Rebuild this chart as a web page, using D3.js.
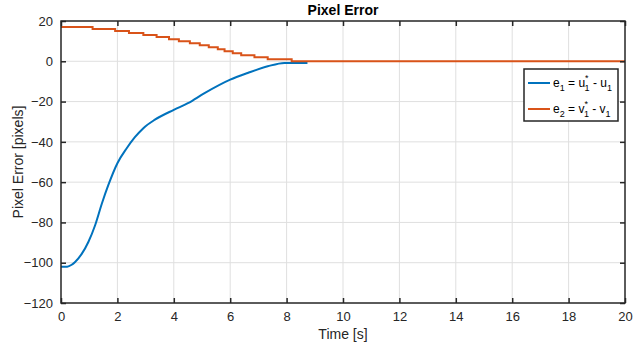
<!DOCTYPE html>
<html>
<head>
<meta charset="utf-8">
<script src="https://cdn.jsdelivr.net/npm/d3@7"></script>
<style>
  html, body { margin: 0; padding: 0; background: #fff; }
  svg { display: block; font-family: "Liberation Sans", Arial, sans-serif; }
</style>
</head>
<body>
<svg id="chart" width="633" height="351"></svg>
<script>
// Time axis ticks and value axis ticks
const xTicks = [0, 2, 4, 6, 8, 10, 12, 14, 16, 18, 20];
const yTicks = [-120, -100, -80, -60, -40, -20, 0, 20];

// e1 = u1* - u1 : horizontal pixel error (time [s], error [px])
const e1Time = [0, 0.22, 0.38, 0.5, 0.74, 0.97, 1.21, 1.45, 1.68, 2.0, 2.33, 2.62, 2.92, 3.33, 4.0, 4.5, 5.09, 6.0, 6.62, 7.33, 7.92, 8.74];
const e1Value = [-102, -102, -101, -99.6, -95.5, -89.7, -81.4, -70.6, -61.4, -50.6, -43.2, -37.7, -33.2, -29.0, -24.1, -20.8, -15.8, -9.1, -5.8, -2.5, -0.8, -0.8];

// e2 = v1* - v1 : vertical pixel error, held constant between updates
const e2Time = [0, 1.12, 1.92, 2.41, 2.92, 3.39, 3.83, 4.18, 4.57, 4.92, 5.24, 5.56, 5.80, 6.09, 6.39, 6.86, 7.33, 8.18, 20];
const e2Value = [17, 16, 15, 14, 13, 12, 11, 10, 9, 8, 7, 6, 5, 4, 3, 2, 1, 0, 0];

const margin = { left: 61, right: 625, top: 21, bottom: 303 };
const svg = d3.select("#chart");

const x = d3.scaleLinear().domain([0, 20]).range([margin.left, margin.right]);
const y = d3.scaleLinear().domain([-120, 20]).range([margin.bottom, margin.top]);

const axisColor = "#262626";
const gridColor = "#dfdfdf";

// grid
const grid = svg.append("g");
grid.selectAll("line.gx").data(xTicks.slice(1, -1)).join("line")
  .attr("x1", d => x(d)).attr("x2", d => x(d))
  .attr("y1", margin.top).attr("y2", margin.bottom)
  .attr("stroke", gridColor).attr("stroke-width", 1);
grid.selectAll("line.gy").data(yTicks.slice(1, -1)).join("line")
  .attr("y1", d => y(d)).attr("y2", d => y(d))
  .attr("x1", margin.left).attr("x2", margin.right)
  .attr("stroke", gridColor).attr("stroke-width", 1);

// series
svg.append("path")
  .datum(e1Time.map((t, i) => [t, e1Value[i]]))
  .attr("d", d3.line().x(d => x(d[0])).y(d => y(d[1])).curve(d3.curveMonotoneX))
  .attr("fill", "none").attr("stroke", "#0072BD").attr("stroke-width", 2);
svg.append("path")
  .datum(e2Time.map((t, i) => [t, e2Value[i]]))
  .attr("d", d3.line().x(d => x(d[0])).y(d => y(d[1])).curve(d3.curveStepAfter))
  .attr("fill", "none").attr("stroke", "#D95319").attr("stroke-width", 2);

// axes (box with inward ticks on all sides)
const tickLen = 5;
function styleAxis(g) {
  g.select(".domain").remove();
  g.selectAll(".tick line").attr("stroke", axisColor).attr("stroke-width", 1.5);
  g.selectAll(".tick text").attr("fill", axisColor).attr("font-size", 13);
}
svg.append("g").attr("transform", `translate(0,${margin.bottom})`)
  .call(d3.axisBottom(x).tickValues(xTicks).tickFormat(d3.format("d")).tickSizeInner(-tickLen).tickPadding(9))
  .call(styleAxis);
svg.append("g").attr("transform", `translate(0,${margin.top})`)
  .call(d3.axisTop(x).tickValues(xTicks).tickSizeInner(-tickLen).tickFormat(""))
  .call(styleAxis);
svg.append("g").attr("transform", `translate(${margin.left},0)`)
  .call(d3.axisLeft(y).tickValues(yTicks).tickFormat(d3.format("d")).tickSizeInner(-tickLen).tickPadding(8))
  .call(styleAxis);
svg.append("g").attr("transform", `translate(${margin.right},0)`)
  .call(d3.axisRight(y).tickValues(yTicks).tickSizeInner(-tickLen).tickFormat(""))
  .call(styleAxis);

svg.append("rect")
  .attr("x", margin.left).attr("y", margin.top)
  .attr("width", margin.right - margin.left).attr("height", margin.bottom - margin.top)
  .attr("fill", "none").attr("stroke", axisColor).attr("stroke-width", 1.5);

// labels
const cx = (margin.left + margin.right) / 2;
svg.append("text").attr("x", cx).attr("y", 15).attr("text-anchor", "middle")
  .attr("font-size", 14).attr("font-weight", "bold").attr("fill", "#000").text("Pixel Error");
svg.append("text").attr("x", cx).attr("y", 339).attr("text-anchor", "middle")
  .attr("font-size", 14).attr("fill", axisColor).text("Time [s]");
svg.append("text")
  .attr("transform", `translate(23,${(margin.top + margin.bottom) / 2}) rotate(-90)`)
  .attr("text-anchor", "middle").attr("font-size", 14).attr("fill", axisColor)
  .text("Pixel Error [pixels]");

// legend
const legend = svg.append("g");
legend.append("rect").attr("x", 524).attr("y", 69).attr("width", 94).attr("height", 52)
  .attr("fill", "#fff").attr("stroke", axisColor).attr("stroke-width", 1.5);

const legendItems = [
  { color: "#0072BD", lhs: "e", idx: "1", rhs: "u" },
  { color: "#D95319", lhs: "e", idx: "2", rhs: "v" }
];
legendItems.forEach((item, i) => {
  const yy = 83 + i * 26;
  legend.append("line").attr("x1", 528).attr("x2", 550).attr("y1", yy).attr("y2", yy)
    .attr("stroke", item.color).attr("stroke-width", 2);
  const t = legend.append("text").attr("x", 553).attr("y", yy + 4)
    .attr("font-size", 12).attr("fill", "#000");
  t.append("tspan").text(item.lhs);
  t.append("tspan").attr("font-size", 9).attr("dy", 4).text(item.idx);
  t.append("tspan").attr("dy", -4).text(" = " + item.rhs);
  t.append("tspan").attr("font-size", 9).attr("dy", -6).text("*");
  t.append("tspan").attr("font-size", 9).attr("dx", -4).attr("dy", 10).text("1");
  t.append("tspan").attr("dy", -4).text(" - " + item.rhs);
  t.append("tspan").attr("font-size", 9).attr("dy", 4).text("1");
});
</script>
</body>
</html>
